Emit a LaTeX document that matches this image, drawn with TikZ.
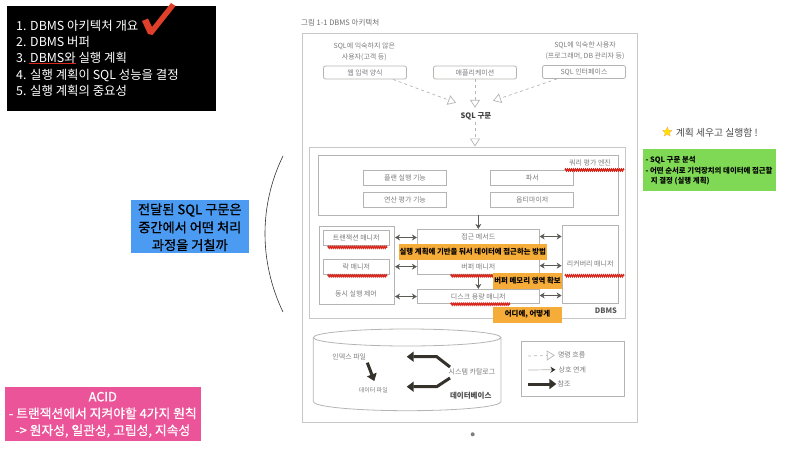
\documentclass[tikz,border=0pt]{standalone}
\usepackage{fontspec}
\setmainfont{Noto Sans CJK KR}
\newfontfamily\krmed[FakeBold=0.8]{Noto Sans CJK KR}
\usetikzlibrary{arrows.meta,decorations.pathmorphing,shapes.geometric}
\definecolor{pageline}{HTML}{C8C8C6}
\definecolor{boxline}{HTML}{B4B4B2}
\definecolor{booktext}{HTML}{7C7C7C}
\definecolor{thickarrow}{HTML}{35322B}
\definecolor{notered}{HTML}{D8281E}
\definecolor{checkred}{HTML}{E0402A}
\definecolor{noteorange}{HTML}{F5AC38}
\definecolor{noteblue}{HTML}{4C9BF2}
\definecolor{notegreen}{HTML}{80D955}
\definecolor{notepink}{HTML}{EC5499}
\tikzset{
  booklabel/.style={font=\fontsize{7}{8}\selectfont,text=booktext,inner sep=0pt},
  bookbox/.style={booklabel,draw=boxline,line width=0.8pt,minimum width=83pt,minimum height=15pt},
  topbox/.style={bookbox,rounded corners=2pt,minimum height=13pt},
  listline/.style={font=\fontsize{12.4}{14}\selectfont,text=white,anchor=west,inner sep=0pt},
  orangenote/.style={fill=noteorange,font=\bfseries\fontsize{7.4}{9}\selectfont,text=black,inner sep=0pt,minimum height=16pt},
  greenline/.style={font=\bfseries\fontsize{7.4}{9}\selectfont,anchor=west,inner sep=0pt},
  redmark/.style={notered,line width=1.3pt,decorate,decoration={zigzag,amplitude=0.9pt,segment length=2pt}},
  cmdflow/.style={boxline,dashed,line width=0.7pt,-{Triangle[open,fill=white,length=8pt,width=10pt,line width=0.7pt]}},
  linkflow/.style={thickarrow!80,line width=0.6pt,{Stealth[length=5pt,width=6pt]}-{Stealth[length=5pt,width=6pt]}},
  oneflow/.style={thickarrow!80,line width=0.6pt,-{Stealth[length=5pt,width=6pt]}},
  refflow/.style={thickarrow,line width=3pt,-{Triangle[length=7pt,width=10pt]}},
  blueline/.style={font=\krmed\fontsize{13.2}{15}\selectfont,inner sep=0pt},
  pinkline/.style={font=\krmed\fontsize{12.8}{15}\selectfont,text=white,inner sep=0pt}
}
\begin{document}
\begin{tikzpicture}[x=1pt,y=-1pt]
  \useasboundingbox (0,0) rectangle (800,452);
  % Topic list
  \fill[black] (6.7,6.3) rectangle (216,110.7);
  \node[listline] (topica) at (16,25.7) {1. DBMS 아키텍처 개요};
  \node[listline] (topicb) at (16,42) {2. DBMS 버퍼};
  \node[listline] (topicc) at (16,58.3) {3. DBMS와 실행 계획};
  \node[listline] (topicd) at (16,75) {4. 실행 계획이 SQL 성능을 결정};
  \node[listline] (topice) at (16,91) {5. 실행 계획의 중요성};
  \draw[notered,line width=0.4pt] (29,63.6) -- (76,63.6);
  % Check mark
  \fill[checkred] (142,21) -- (148,18.5) -- (152,27) -- (171,3) -- (175.5,6) -- (152.5,35) -- (148,34) -- cycle;
  % Page frame
  \draw[pageline,line width=1pt] (302,34) rectangle (637,422);
  \node[font=\fontsize{7.5}{9}\selectfont,text=booktext!90!black,anchor=west,inner sep=0pt] (figtitle) at (301,22.7) {그림 1-1 DBMS 아키텍처};
  % Users
  \node[booklabel] (usera) at (364.3,46.7) {SQL에 익숙하지 않은};
  \node[booklabel] (userb) at (364.3,57.3) {사용자(고객 등)};
  \node[booklabel] (userc) at (585,45.3) {SQL에 익숙한 사용자};
  \node[booklabel] (userd) at (585,56) {(프로그래머, DB 관리자 등)};
  \node[topbox] (webform) at (365,72.5) {웹 입력 양식};
  \node[topbox] (appl) at (475,72.5) {애플리케이션};
  \node[topbox] (sqlif) at (584,72) {SQL 인터페이스};
  \node[font=\bfseries\fontsize{7.5}{9}\selectfont,text=black!75,inner sep=0pt,minimum width=34pt,minimum height=12pt] (sqltext) at (476,116) {SQL 구문};
  \draw[cmdflow] ([xshift=28pt]webform.south) -- ([xshift=-20pt,yshift=7pt]sqltext.north);
  \draw[cmdflow] (appl.south) -- ([yshift=2pt]sqltext.north -| appl.south);
  \draw[cmdflow] ([xshift=-27pt]sqlif.south) -- ([xshift=17pt,yshift=9pt]sqltext.north);
  % DBMS
  \node[draw=pageline,line width=1pt,minimum width=316pt,minimum height=171pt,inner sep=0pt] (dbms) at (467,232.5) {};
  \node[font=\bfseries\fontsize{7.5}{9}\selectfont,text=black!65,inner sep=0pt] (dbmstext) at (606,310.3) {DBMS};
  \draw[cmdflow] (sqltext.south -| appl.south) -- (dbms.north -| appl.south);
  % Query engine
  \node[draw=boxline,line width=0.8pt,minimum width=300pt,minimum height=60pt,inner sep=0pt] (engine) at (468,185) {};
  \node[booklabel] (enginetext) at (590,162.7) {쿼리 평가 엔진};
  \node[bookbox] (planexec) at (405,178) {플랜 실행 기능};
  \node[bookbox] (opeval) at (405,200.3) {연산 평가 기능};
  \node[bookbox] (parser) at (532.3,177.5) {파서};
  \node[bookbox] (optim) at (532.3,199.5) {옵티마이저};
  % Managers
  \node[draw=boxline,line width=0.8pt,minimum width=75.7pt,minimum height=78.7pt,inner sep=0pt] (conc) at (356.8,265.3) {};
  \node[booklabel] (conctext) at (356,294.3) {동시 실행 제어};
  \node[bookbox,minimum width=66pt] (txnmgr) at (356.3,237.5) {트랜잭션 매니저};
  \node[bookbox,minimum width=66pt] (lockmgr) at (356.3,266.7) {락 매니저};
  \node[bookbox,minimum width=122pt,minimum height=23pt,text depth=8pt] (access) at (478.3,240.8) {접근 메서드};
  \node[bookbox,minimum width=122pt,minimum height=22pt,text height=12pt] (buffer) at (478.3,263.3) {버퍼 매니저};
  \node[bookbox,minimum width=122pt,minimum height=14.4pt] (disk) at (478.3,296.5) {디스크 용량 매니저};
  \node[bookbox,minimum width=56.3pt,minimum height=78.3pt] (recovery) at (590.2,264.2) {리커버리 매니저};
  % Connections
  \foreach \mgr/\unit in {txnmgr/access,lockmgr/buffer,disk/disk} {
    \draw[linkflow] (\mgr -| conc.east) -- (\mgr -| \unit.west);
    \draw[linkflow] ([yshift=1pt]\mgr -| \unit.east) -- ([yshift=1pt]\mgr -| recovery.west);
  }
  \draw[oneflow] (engine.south -| access.north) -- (access.north);
  \draw[oneflow] (buffer.south) -- (disk.north);
  % Red marks
  \foreach \xa/\xb/\y in {565/624/170, 327.7/387.3/247.3, 327.7/387.3/275.8, 450.7/510/275.8, 450.7/510/304.2, 565/624/275.8} {
    \draw[redmark] (\xa,\y) -- (\xb,\y);
  }
  % Orange notes
  \node[orangenote,minimum width=147.7pt] (notea) at (472.8,252) {실행 계획에 기반을 둬서 데이터에 접근하는 방법};
  \node[orangenote,minimum width=68.4pt] (noteb) at (527.5,280.8) {버퍼 메모리 영역 확보};
  \node[orangenote,minimum width=69.6pt] (notec) at (527.5,314.7) {어디에, 어떻게};
  % Database
  \draw[boxline,line width=0.8pt] (313.3,337.5) arc[x radius=93.8,y radius=8.5,start angle=180,end angle=-180]
    (313.3,337.5) -- (313.3,401.7) arc[x radius=93.8,y radius=9,start angle=180,end angle=0] -- (501,337.5);
  \node[booklabel] (indexfile) at (349.3,357.3) {인덱스 파일};
  \node[booklabel,font=\fontsize{6}{7}\selectfont] (datafile) at (373.3,390) {데이터 파일};
  \node[booklabel] (catalog) at (472,371.7) {시스템 카탈로그};
  \node[font=\bfseries\fontsize{7.5}{9}\selectfont,text=black!70,inner sep=0pt] (dbtext) at (470.7,396) {데이터베이스};
  \coordinate (catup) at (450,367);
  \coordinate (catdown) at (450,378);
  \coordinate (indexend) at (406.7,356.7);
  \coordinate (dataend) at (406.7,386.7);
  \draw[refflow] ([xshift=18pt,yshift=-2pt]indexfile.south) -- ([xshift=1pt,yshift=6pt]datafile.north);
  \draw[refflow] (catup) -- (436.7,356.7) -- (indexend);
  \draw[refflow] (catdown) -- (436.7,386.7) -- (dataend);
  % Legend
  \node[draw=boxline,line width=0.8pt,minimum width=103pt,minimum height=54.6pt,inner sep=0pt] (legend) at (572.5,369) {};
  \node[booklabel] (legcmd) at (571.7,355.3) {명령 흐름};
  \node[booklabel] (leglink) at (572.3,369.7) {상호 연계};
  \node[booklabel] (legref) at (564,384) {참조};
  \coordinate (legstart) at (528,356);
  \coordinate (legmid) at (528,370);
  \coordinate (legend3) at (528,384);
  \draw[cmdflow] (legstart) -- ([xshift=-3pt]legcmd.west);
  \draw[boxline,line width=0.7pt,-{Stealth[length=5pt,width=6pt,color=thickarrow]}] (legmid) -- ([xshift=-3pt]leglink.west);
  \draw[refflow] (legend3) -- ([xshift=-1pt]legref.west);
  % Page dot
  \fill[gray] (472.7,434.3) circle (2);
  % Bracket curve
  \draw[black!80,line width=0.6pt] (283,156) .. controls (259,205) and (259,262) .. (283,312);
  % Blue note
  \node[fill=noteblue,minimum width=117.7pt,minimum height=53.3pt,inner sep=0pt] (bluebox) at (189.8,226.7) {};
  \node[blueline] (bluea) at (189.8,210) {전달된 SQL 구문은};
  \node[blueline] (blueb) at (189.8,227.3) {중간에서 어떤 처리};
  \node[blueline] (bluec) at (189.8,245) {과정을 거칠까};
  % Pink note
  \node[fill=notepink,minimum width=196.3pt,minimum height=54.3pt,inner sep=0pt] (pinkbox) at (102.8,413.8) {};
  \node[pinkline] (pinka) at (102.8,396.7) {ACID};
  \node[pinkline] (pinkb) at (102.8,413.3) {- 트랜잭션에서 지켜야할 4가지 원칙};
  \node[pinkline] (pinkc) at (102.8,431) {-> 원자성, 일관성, 고립성, 지속성};
  % Star remark
  \node[star,star points=5,star point ratio=2.2,fill=yellow!85!orange,draw=orange!70,line width=0.3pt,minimum size=10pt,inner sep=0pt] (starmark) at (667.3,132) {};
  \node[font=\fontsize{9.8}{11}\selectfont,text=black!70,anchor=west,inner sep=0pt] (remark) at (675.7,132.3) {계획 세우고 실행함 !};
  % Green note
  \node[fill=notegreen,minimum width=132.7pt,minimum height=42pt,inner sep=0pt] (greenbox) at (709.7,170) {};
  \node[greenline] (greena) at (645.3,160) {- SQL 구문 분석};
  \node[greenline] (greenb) at (645.3,170.3) {- 어떤 순서로 기억장치의 데이터에 접근할};
  \node[greenline] (greenc) at (650.7,181) {지 결정 (실행 계획)};
\end{tikzpicture}
\end{document}
